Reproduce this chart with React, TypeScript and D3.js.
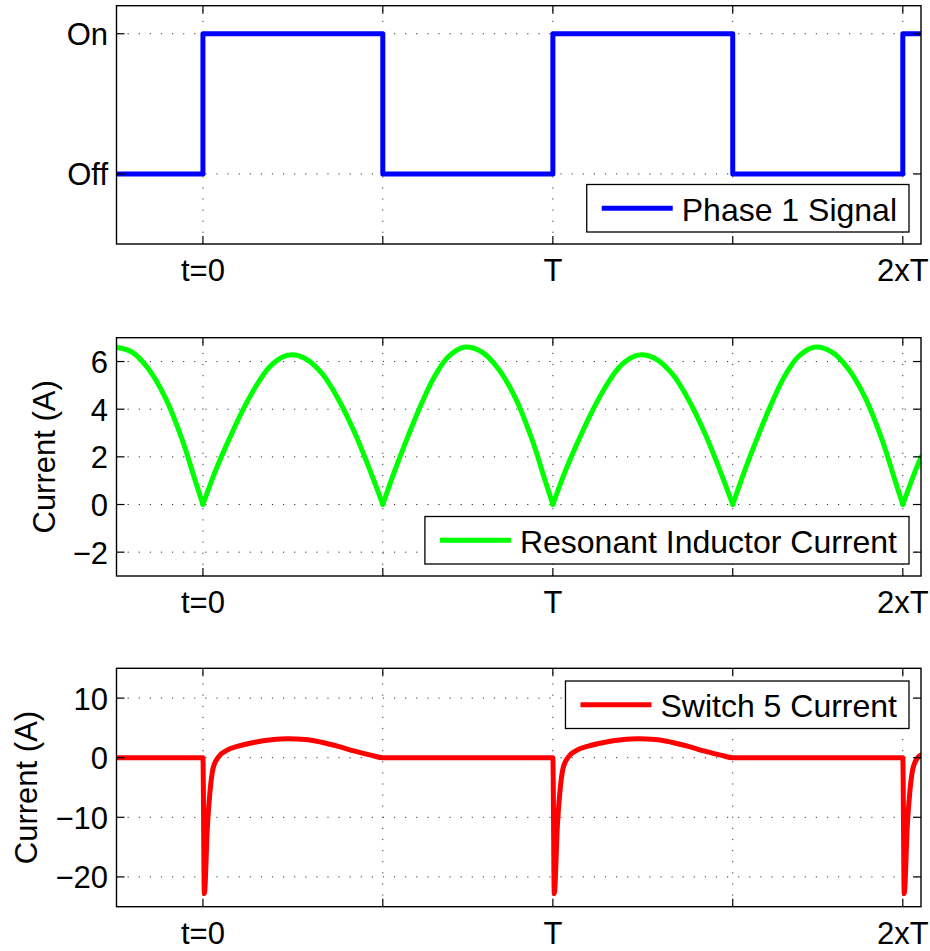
import React from 'react';
import * as d3 from 'd3';

// ---------- data ----------
const timeDomain = [-0.247, 2.052];
const timeTicks = [0, 0.514, 1, 1.514, 2];
const timeTickLabels = ['t=0', '', 'T', '', '2xT'];

const phaseTimes = [-0.247, 0, 0.514, 1, 1.514, 2, 2.052];
const phaseStates = [0, 1, 0, 1, 0, 1, 1];
const phaseTicks = [0, 1];
const phaseTickLabels = ['Off', 'On'];
const phaseDomain = [-0.5, 1.2];

const inductorTimes = [
  -0.247, -0.203, -0.156, -0.108, -0.06, -0.022, 0,
  0.034, 0.072, 0.11, 0.149, 0.187, 0.225, 0.253, 0.292, 0.339, 0.387, 0.434, 0.473, 0.514,
  0.549, 0.587, 0.625, 0.663, 0.701, 0.747, 0.797, 0.844, 0.892, 0.94, 0.978, 1.0,
  1.034, 1.072, 1.11, 1.149, 1.187, 1.225, 1.253, 1.292, 1.339, 1.387, 1.434, 1.473, 1.514,
  1.549, 1.587, 1.625, 1.663, 1.701, 1.747, 1.797, 1.844, 1.892, 1.94, 1.978, 2.0,
  2.034, 2.052,
];
const inductorValues = [
  6.6, 6.4, 5.7, 4.5, 2.75, 1.0, 0,
  1.35, 2.65, 3.85, 4.9, 5.72, 6.17, 6.28, 6.13, 5.52, 4.42, 3.0, 1.6, 0,
  1.45, 2.9, 4.25, 5.4, 6.2, 6.6, 6.4, 5.7, 4.5, 2.75, 1.0, 0,
  1.35, 2.65, 3.85, 4.9, 5.72, 6.17, 6.28, 6.13, 5.52, 4.42, 3.0, 1.6, 0,
  1.45, 2.9, 4.25, 5.4, 6.2, 6.6, 6.4, 5.7, 4.5, 2.75, 1.0, 0,
  1.35, 2.0,
];
const currentTicks = [-2, 0, 2, 4, 6];
const currentDomain = [-3, 7];

const switchTimes = [
  -0.247, 0, 0.004, 0.013, 0.02, 0.029, 0.044, 0.068, 0.101, 0.149, 0.196, 0.244, 0.292, 0.339, 0.387, 0.434, 0.482, 0.514,
  1.0, 1.004, 1.013, 1.02, 1.029, 1.044, 1.068, 1.101, 1.149, 1.196, 1.244, 1.292, 1.339, 1.387, 1.434, 1.482, 1.514,
  2.0, 2.004, 2.013, 2.02, 2.029, 2.044, 2.052,
];
const switchValues = [
  0, 0, -22.8, -11.3, -5.8, -1.8, 0.1, 1.22, 1.94, 2.6, 3.0, 3.18, 3.07, 2.6, 1.9, 1.1, 0.39, 0,
  0, -22.8, -11.3, -5.8, -1.8, 0.1, 1.22, 1.94, 2.6, 3.0, 3.18, 3.07, 2.6, 1.9, 1.1, 0.39, 0,
  0, -22.8, -11.3, -5.8, -1.8, 0.1, 0.45,
];
const switchTicks = [-20, -10, 0, 10];
const switchDomain = [-25, 15];

const legendLabels = ['Phase 1 Signal', 'Resonant Inductor Current', 'Switch 5 Current'];
const lineColors = ['#0000ff', '#00ff00', '#ff0000'];

// ---------- layout ----------
const W = 930;
const H = 951;
const left = 116.5;
const right = 921;
const panels = [
  { top: 5.7, bottom: 244 },
  { top: 337.7, bottom: 576 },
  { top: 668.3, bottom: 906.7 },
];
const FONT = '"Liberation Sans", Arial, Helvetica, sans-serif';
const TICK_FS = 31;
const LEG_FS = 32;
const LW = 5;

function fmt(v: number): string {
  return v < 0 ? '\u2212' + Math.abs(v) : String(v);
}

let _ctx: CanvasRenderingContext2D | null = null;
function measure(text: string, size: number): number {
  if (!_ctx) _ctx = document.createElement('canvas').getContext('2d');
  if (!_ctx) return text.length * size * 0.55;
  _ctx.font = `${size}px "Liberation Sans", Arial, sans-serif`;
  return _ctx.measureText(text).width;
}

type PanelProps = {
  idx: number;
  yTicks: number[];
  yTickLabels: string[];
  paths: string[];
  color: string;
  legend: string;
  legendPos: 'top' | 'bottom';
  yLabel?: string;
  yLabelX?: number;
  y: d3.ScaleLinear<number, number>;
};

const x = d3.scaleLinear().domain(timeDomain).range([left, right]);

function Panel(p: PanelProps) {
  const { top, bottom } = panels[p.idx];
  const y = p.y;
  const clipId = `clip${p.idx}`;
  const tw = measure(p.legend, LEG_FS);
  const textEnd = 897;
  const textStart = textEnd - tw;
  const boxL = textStart - 95;
  const boxR = 909;
  const boxH = 47.5;
  const boxT = p.legendPos === 'bottom' ? bottom - 12 - boxH : top + 12.7;
  const cy = boxT + boxH / 2;
  return (
    <g>
      <defs>
        <clipPath id={clipId}>
          <rect x={left} y={top} width={right - left} height={bottom - top} />
        </clipPath>
      </defs>
      <g stroke="#333" strokeWidth={1} strokeDasharray="1.2 9.9">
        {timeTicks.map((t, i) => (
          <line key={'gx' + i} x1={x(t)} x2={x(t)} y1={bottom} y2={top} />
        ))}
        {p.yTicks.map((v, i) => (
          <line key={'gy' + i} x1={left} x2={right} y1={y(v)} y2={y(v)} />
        ))}
      </g>
      <g clipPath={`url(#${clipId})`}>
        {p.paths.map((d, i) => (
          <path
            key={i}
            d={d}
            fill="none"
            stroke={p.color}
            strokeWidth={LW}
            strokeLinejoin="round"
            strokeLinecap="round"
          />
        ))}
      </g>
      <g stroke="#000" strokeWidth={1.2}>
        {timeTicks.map((t, i) => (
          <g key={'tx' + i}>
            <line x1={x(t)} x2={x(t)} y1={bottom} y2={bottom - 8} />
            <line x1={x(t)} x2={x(t)} y1={top} y2={top + 8} />
          </g>
        ))}
        {p.yTicks.map((v, i) => (
          <g key={'ty' + i}>
            <line x1={left} x2={left + 8} y1={y(v)} y2={y(v)} />
            <line x1={right} x2={right - 8} y1={y(v)} y2={y(v)} />
          </g>
        ))}
      </g>
      <rect x={left} y={top} width={right - left} height={bottom - top} fill="none" stroke="#000" strokeWidth={1.4} />
      <g fontFamily={FONT} fontSize={TICK_FS} fill="#000">
        {timeTicks.map((t, i) => (
          <text key={'lx' + i} x={x(t)} y={bottom + 37} textAnchor="middle">
            {timeTickLabels[i]}
          </text>
        ))}
        {p.yTicks.map((v, i) => (
          <text key={'ly' + i} x={108} y={y(v) + 11.5} textAnchor="end">
            {p.yTickLabels[i]}
          </text>
        ))}
      </g>
      {p.yLabel && (
        <text
          fontFamily={FONT}
          fontSize={TICK_FS}
          textAnchor="middle"
          transform={`translate(${p.yLabelX},${(top + bottom) / 2}) rotate(-90)`}
        >
          {p.yLabel}
        </text>
      )}
      <g>
        <rect x={boxL} y={boxT} width={boxR - boxL} height={boxH} fill="#fff" stroke="#000" strokeWidth={1.3} />
        <line x1={boxL + 15} x2={boxL + 86} y1={cy} y2={cy} stroke={p.color} strokeWidth={LW} />
        <text x={textEnd} y={cy + 12.5} textAnchor="end" fontFamily={FONT} fontSize={LEG_FS} fill="#000">
          {p.legend}
        </text>
      </g>
    </g>
  );
}

function splitAtZeros(ts: number[], vs: number[]): [number, number][][] {
  const segs: [number, number][][] = [];
  let cur: [number, number][] = [];
  ts.forEach((t, i) => {
    cur.push([t, vs[i]]);
    if (vs[i] === 0 && cur.length > 1) {
      segs.push(cur);
      cur = [[t, vs[i]]];
    }
  });
  if (cur.length > 1) segs.push(cur);
  return segs;
}

export default function App() {
  const y1 = d3.scaleLinear().domain(phaseDomain).range([panels[0].bottom, panels[0].top]);
  const y2 = d3.scaleLinear().domain(currentDomain).range([panels[1].bottom, panels[1].top]);
  const y3 = d3.scaleLinear().domain(switchDomain).range([panels[2].bottom, panels[2].top]);

  const phaseLine = d3
    .line<number>()
    .x((t) => x(t))
    .y((_, i) => y1(phaseStates[i]))
    .curve(d3.curveStepAfter);
  const phasePath = phaseLine(phaseTimes) || '';

  const indLine = d3
    .line<[number, number]>()
    .x((d) => x(d[0]))
    .y((d) => y2(d[1]))
    .curve(d3.curveCatmullRom.alpha(0.5));
  const indPaths = splitAtZeros(inductorTimes, inductorValues).map((s) => indLine(s) || '');

  const swLine = d3
    .line<number>()
    .x((t) => x(t))
    .y((_, i) => y3(switchValues[i]))
    .curve(d3.curveMonotoneX);
  const swPath = swLine(switchTimes) || '';

  return (
    <svg width={W} height={H} style={{ position: 'absolute', left: 0, top: 0, background: '#fff' }}>
      <rect width={W} height={H} fill="#fff" />
      <Panel
        idx={0}
        y={y1}
        yTicks={phaseTicks}
        yTickLabels={phaseTickLabels}
        paths={[phasePath]}
        color={lineColors[0]}
        legend={legendLabels[0]}
        legendPos="bottom"
      />
      <Panel
        idx={1}
        y={y2}
        yTicks={currentTicks}
        yTickLabels={currentTicks.map(fmt)}
        paths={indPaths}
        color={lineColors[1]}
        legend={legendLabels[1]}
        legendPos="bottom"
        yLabel="Current (A)"
        yLabelX={55}
      />
      <Panel
        idx={2}
        y={y3}
        yTicks={switchTicks}
        yTickLabels={switchTicks.map(fmt)}
        paths={[swPath]}
        color={lineColors[2]}
        legend={legendLabels[2]}
        legendPos="top"
        yLabel="Current (A)"
        yLabelX={37}
      />
    </svg>
  );
}
